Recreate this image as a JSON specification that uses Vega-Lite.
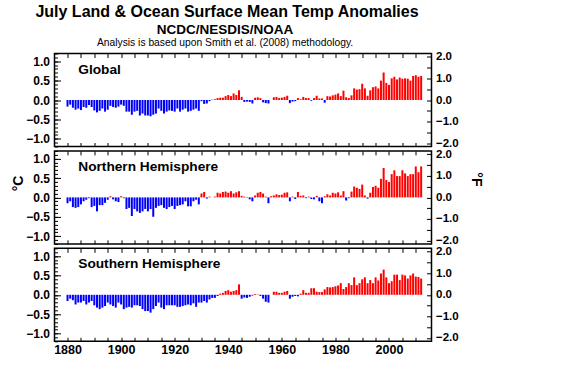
{
  "$schema": "https://vega.github.io/schema/vega-lite/v6.json",
  "background": "white",
  "padding": {"left": 10.5, "top": 3.5, "right": 0, "bottom": 0},
  "spacing": -2.6,
  "config": {
    "font": "Liberation Sans",
    "view": {"stroke": "black", "strokeWidth": 1.5},
    "axis": {
      "labelFont": "Liberation Sans",
      "labelFontSize": 12,
      "labelFontWeight": "bold",
      "labelColor": "black",
      "labelOverlap": false,
      "tickColor": "black",
      "tickWidth": 1,
      "domain": false,
      "grid": false,
      "titleFont": "Liberation Sans",
      "titleFontSize": 14,
      "titleFontWeight": "bold",
      "titleColor": "black"
    }
  },
  "title": {
    "text": "July Land & Ocean Surface Mean Temp Anomalies",
    "fontSize": 16,
    "font": "Liberation Sans",
    "fontWeight": "bold",
    "color": "black",
    "anchor": "middle",
    "dx": -20,
    "offset": 2
  },
  "datasets": {
    "global": [
      {"year":1880,"anom":-0.17},{"year":1881,"anom":-0.12},{"year":1882,"anom":-0.2},{"year":1883,"anom":-0.25},{"year":1884,"anom":-0.22},{"year":1885,"anom":-0.26},{"year":1886,"anom":-0.18},{"year":1887,"anom":-0.2},{"year":1888,"anom":-0.13},{"year":1889,"anom":-0.18},
      {"year":1890,"anom":-0.27},{"year":1891,"anom":-0.32},{"year":1892,"anom":-0.28},{"year":1893,"anom":-0.22},{"year":1894,"anom":-0.3},{"year":1895,"anom":-0.25},{"year":1896,"anom":-0.15},{"year":1897,"anom":-0.18},{"year":1898,"anom":-0.2},{"year":1899,"anom":-0.17},
      {"year":1900,"anom":-0.12},{"year":1901,"anom":-0.15},{"year":1902,"anom":-0.3},{"year":1903,"anom":-0.3},{"year":1904,"anom":-0.38},{"year":1905,"anom":-0.3},{"year":1906,"anom":-0.28},{"year":1907,"anom":-0.4},{"year":1908,"anom":-0.35},{"year":1909,"anom":-0.4},
      {"year":1910,"anom":-0.4},{"year":1911,"anom":-0.42},{"year":1912,"anom":-0.38},{"year":1913,"anom":-0.35},{"year":1914,"anom":-0.22},{"year":1915,"anom":-0.28},{"year":1916,"anom":-0.35},{"year":1917,"anom":-0.3},{"year":1918,"anom":-0.27},{"year":1919,"anom":-0.28},
      {"year":1920,"anom":-0.3},{"year":1921,"anom":-0.22},{"year":1922,"anom":-0.3},{"year":1923,"anom":-0.25},{"year":1924,"anom":-0.22},{"year":1925,"anom":-0.3},{"year":1926,"anom":-0.28},{"year":1927,"anom":-0.25},{"year":1928,"anom":-0.22},{"year":1929,"anom":-0.28},
      {"year":1930,"anom":-0.03},{"year":1931,"anom":-0.1},{"year":1932,"anom":-0.09},{"year":1933,"anom":-0.03},{"year":1934,"anom":0.01},{"year":1935,"anom":0.02},{"year":1936,"anom":0.05},{"year":1937,"anom":0.06},{"year":1938,"anom":0.06},{"year":1939,"anom":0.1},
      {"year":1940,"anom":0.13},{"year":1941,"anom":0.1},{"year":1942,"anom":0.17},{"year":1943,"anom":0.13},{"year":1944,"anom":0.25},{"year":1945,"anom":0.08},{"year":1946,"anom":-0.05},{"year":1947,"anom":-0.04},{"year":1948,"anom":-0.05},{"year":1949,"anom":-0.09},
      {"year":1950,"anom":0.06},{"year":1951,"anom":0.07},{"year":1952,"anom":0.05},{"year":1953,"anom":-0.06},{"year":1954,"anom":-0.08},{"year":1955,"anom":-0.09},{"year":1956,"anom":0.0},{"year":1957,"anom":0.07},{"year":1958,"anom":0.08},{"year":1959,"anom":0.05},
      {"year":1960,"anom":0.06},{"year":1961,"anom":0.08},{"year":1962,"anom":0.11},{"year":1963,"anom":-0.08},{"year":1964,"anom":-0.04},{"year":1965,"anom":-0.03},{"year":1966,"anom":0.05},{"year":1967,"anom":0.02},{"year":1968,"anom":0.08},{"year":1969,"anom":0.05},
      {"year":1970,"anom":0.05},{"year":1971,"anom":-0.02},{"year":1972,"anom":0.05},{"year":1973,"anom":0.11},{"year":1974,"anom":0.04},{"year":1975,"anom":0.04},{"year":1976,"anom":-0.07},{"year":1977,"anom":0.1},{"year":1978,"anom":0.09},{"year":1979,"anom":0.12},
      {"year":1980,"anom":0.14},{"year":1981,"anom":0.17},{"year":1982,"anom":0.1},{"year":1983,"anom":0.24},{"year":1984,"anom":0.07},{"year":1985,"anom":0.05},{"year":1986,"anom":0.12},{"year":1987,"anom":0.3},{"year":1988,"anom":0.27},{"year":1989,"anom":0.28},
      {"year":1990,"anom":0.42},{"year":1991,"anom":0.3},{"year":1992,"anom":0.11},{"year":1993,"anom":0.25},{"year":1994,"anom":0.33},{"year":1995,"anom":0.35},{"year":1996,"anom":0.3},{"year":1997,"anom":0.5},{"year":1998,"anom":0.71},{"year":1999,"anom":0.44},
      {"year":2000,"anom":0.39},{"year":2001,"anom":0.56},{"year":2002,"anom":0.6},{"year":2003,"anom":0.53},{"year":2004,"anom":0.58},{"year":2005,"anom":0.55},{"year":2006,"anom":0.56},{"year":2007,"anom":0.55},{"year":2008,"anom":0.5},{"year":2009,"anom":0.62},
      {"year":2010,"anom":0.64},{"year":2011,"anom":0.6},{"year":2012,"anom":0.62}
    ],
    "nh": [
      {"year":1880,"anom":-0.15},{"year":1881,"anom":-0.1},{"year":1882,"anom":-0.25},{"year":1883,"anom":-0.27},{"year":1884,"anom":-0.25},{"year":1885,"anom":-0.18},{"year":1886,"anom":-0.1},{"year":1887,"anom":-0.06},{"year":1888,"anom":-0.02},{"year":1889,"anom":-0.25},
      {"year":1890,"anom":-0.22},{"year":1891,"anom":-0.36},{"year":1892,"anom":-0.2},{"year":1893,"anom":-0.2},{"year":1894,"anom":-0.14},{"year":1895,"anom":-0.06},{"year":1896,"anom":0.03},{"year":1897,"anom":-0.05},{"year":1898,"anom":-0.1},{"year":1899,"anom":-0.12},
      {"year":1900,"anom":0.03},{"year":1901,"anom":-0.02},{"year":1902,"anom":-0.3},{"year":1903,"anom":-0.27},{"year":1904,"anom":-0.48},{"year":1905,"anom":-0.3},{"year":1906,"anom":-0.36},{"year":1907,"anom":-0.4},{"year":1908,"anom":-0.36},{"year":1909,"anom":-0.3},
      {"year":1910,"anom":-0.36},{"year":1911,"anom":-0.3},{"year":1912,"anom":-0.5},{"year":1913,"anom":-0.27},{"year":1914,"anom":-0.22},{"year":1915,"anom":-0.2},{"year":1916,"anom":-0.27},{"year":1917,"anom":-0.3},{"year":1918,"anom":-0.25},{"year":1919,"anom":-0.22},
      {"year":1920,"anom":-0.3},{"year":1921,"anom":-0.22},{"year":1922,"anom":-0.2},{"year":1923,"anom":-0.18},{"year":1924,"anom":-0.1},{"year":1925,"anom":-0.23},{"year":1926,"anom":-0.23},{"year":1927,"anom":-0.1},{"year":1928,"anom":-0.06},{"year":1929,"anom":-0.18},
      {"year":1930,"anom":0.1},{"year":1931,"anom":0.14},{"year":1932,"anom":-0.03},{"year":1933,"anom":0.02},{"year":1934,"anom":0.0},{"year":1935,"anom":0.02},{"year":1936,"anom":0.12},{"year":1937,"anom":0.1},{"year":1938,"anom":0.14},{"year":1939,"anom":0.15},
      {"year":1940,"anom":0.12},{"year":1941,"anom":0.16},{"year":1942,"anom":0.1},{"year":1943,"anom":0.13},{"year":1944,"anom":0.16},{"year":1945,"anom":0.04},{"year":1946,"anom":0.02},{"year":1947,"anom":-0.01},{"year":1948,"anom":-0.05},{"year":1949,"anom":-0.1},
      {"year":1950,"anom":0.05},{"year":1951,"anom":0.12},{"year":1952,"anom":0.14},{"year":1953,"anom":0.1},{"year":1954,"anom":0.02},{"year":1955,"anom":-0.15},{"year":1956,"anom":0.03},{"year":1957,"anom":0.05},{"year":1958,"anom":0.08},{"year":1959,"anom":0.06},
      {"year":1960,"anom":0.07},{"year":1961,"anom":0.12},{"year":1962,"anom":0.13},{"year":1963,"anom":-0.1},{"year":1964,"anom":0.02},{"year":1965,"anom":-0.04},{"year":1966,"anom":0.14},{"year":1967,"anom":0.04},{"year":1968,"anom":0.05},{"year":1969,"anom":-0.02},
      {"year":1970,"anom":0.02},{"year":1971,"anom":-0.04},{"year":1972,"anom":-0.05},{"year":1973,"anom":0.04},{"year":1974,"anom":-0.1},{"year":1975,"anom":-0.15},{"year":1976,"anom":0.03},{"year":1977,"anom":0.08},{"year":1978,"anom":0.05},{"year":1979,"anom":0.12},
      {"year":1980,"anom":0.1},{"year":1981,"anom":0.13},{"year":1982,"anom":0.05},{"year":1983,"anom":0.16},{"year":1984,"anom":-0.08},{"year":1985,"anom":-0.02},{"year":1986,"anom":0.15},{"year":1987,"anom":0.28},{"year":1988,"anom":0.25},{"year":1989,"anom":0.22},
      {"year":1990,"anom":0.33},{"year":1991,"anom":0.05},{"year":1992,"anom":-0.03},{"year":1993,"anom":0.12},{"year":1994,"anom":0.27},{"year":1995,"anom":0.3},{"year":1996,"anom":0.25},{"year":1997,"anom":0.48},{"year":1998,"anom":0.76},{"year":1999,"anom":0.45},
      {"year":2000,"anom":0.4},{"year":2001,"anom":0.6},{"year":2002,"anom":0.7},{"year":2003,"anom":0.55},{"year":2004,"anom":0.55},{"year":2005,"anom":0.7},{"year":2006,"anom":0.62},{"year":2007,"anom":0.55},{"year":2008,"anom":0.6},{"year":2009,"anom":0.6},
      {"year":2010,"anom":0.8},{"year":2011,"anom":0.65},{"year":2012,"anom":0.8}
    ],
    "sh": [
      {"year":1880,"anom":-0.16},{"year":1881,"anom":-0.1},{"year":1882,"anom":-0.14},{"year":1883,"anom":-0.25},{"year":1884,"anom":-0.2},{"year":1885,"anom":-0.2},{"year":1886,"anom":-0.16},{"year":1887,"anom":-0.25},{"year":1888,"anom":-0.2},{"year":1889,"anom":-0.16},
      {"year":1890,"anom":-0.27},{"year":1891,"anom":-0.33},{"year":1892,"anom":-0.37},{"year":1893,"anom":-0.33},{"year":1894,"anom":-0.29},{"year":1895,"anom":-0.2},{"year":1896,"anom":-0.25},{"year":1897,"anom":-0.29},{"year":1898,"anom":-0.33},{"year":1899,"anom":-0.2},
      {"year":1900,"anom":-0.25},{"year":1901,"anom":-0.37},{"year":1902,"anom":-0.33},{"year":1903,"anom":-0.31},{"year":1904,"anom":-0.33},{"year":1905,"anom":-0.27},{"year":1906,"anom":-0.27},{"year":1907,"anom":-0.29},{"year":1908,"anom":-0.37},{"year":1909,"anom":-0.42},
      {"year":1910,"anom":-0.42},{"year":1911,"anom":-0.46},{"year":1912,"anom":-0.37},{"year":1913,"anom":-0.29},{"year":1914,"anom":-0.2},{"year":1915,"anom":-0.33},{"year":1916,"anom":-0.37},{"year":1917,"anom":-0.27},{"year":1918,"anom":-0.27},{"year":1919,"anom":-0.27},
      {"year":1920,"anom":-0.27},{"year":1921,"anom":-0.31},{"year":1922,"anom":-0.31},{"year":1923,"anom":-0.29},{"year":1924,"anom":-0.27},{"year":1925,"anom":-0.25},{"year":1926,"anom":-0.27},{"year":1927,"anom":-0.22},{"year":1928,"anom":-0.31},{"year":1929,"anom":-0.2},
      {"year":1930,"anom":-0.2},{"year":1931,"anom":-0.16},{"year":1932,"anom":-0.2},{"year":1933,"anom":-0.12},{"year":1934,"anom":-0.08},{"year":1935,"anom":-0.08},{"year":1936,"anom":-0.03},{"year":1937,"anom":0.03},{"year":1938,"anom":0.05},{"year":1939,"anom":0.1},
      {"year":1940,"anom":0.12},{"year":1941,"anom":0.08},{"year":1942,"anom":0.1},{"year":1943,"anom":0.12},{"year":1944,"anom":0.27},{"year":1945,"anom":-0.1},{"year":1946,"anom":-0.07},{"year":1947,"anom":-0.08},{"year":1948,"anom":-0.05},{"year":1949,"anom":-0.02},
      {"year":1950,"anom":0.02},{"year":1951,"anom":0.01},{"year":1952,"anom":-0.03},{"year":1953,"anom":-0.1},{"year":1954,"anom":-0.18},{"year":1955,"anom":-0.2},{"year":1956,"anom":0.0},{"year":1957,"anom":0.08},{"year":1958,"anom":0.08},{"year":1959,"anom":0.05},
      {"year":1960,"anom":0.05},{"year":1961,"anom":0.08},{"year":1962,"anom":0.1},{"year":1963,"anom":-0.1},{"year":1964,"anom":-0.05},{"year":1965,"anom":-0.03},{"year":1966,"anom":-0.04},{"year":1967,"anom":0.03},{"year":1968,"anom":0.12},{"year":1969,"anom":0.05},
      {"year":1970,"anom":0.05},{"year":1971,"anom":0.17},{"year":1972,"anom":0.17},{"year":1973,"anom":0.08},{"year":1974,"anom":0.07},{"year":1975,"anom":0.07},{"year":1976,"anom":0.14},{"year":1977,"anom":0.2},{"year":1978,"anom":0.19},{"year":1979,"anom":0.2},
      {"year":1980,"anom":0.22},{"year":1981,"anom":0.24},{"year":1982,"anom":0.3},{"year":1983,"anom":0.15},{"year":1984,"anom":0.2},{"year":1985,"anom":0.3},{"year":1986,"anom":0.25},{"year":1987,"anom":0.45},{"year":1988,"anom":0.25},{"year":1989,"anom":0.3},
      {"year":1990,"anom":0.4},{"year":1991,"anom":0.45},{"year":1992,"anom":0.3},{"year":1993,"anom":0.38},{"year":1994,"anom":0.3},{"year":1995,"anom":0.45},{"year":1996,"anom":0.37},{"year":1997,"anom":0.55},{"year":1998,"anom":0.65},{"year":1999,"anom":0.45},
      {"year":2000,"anom":0.3},{"year":2001,"anom":0.35},{"year":2002,"anom":0.52},{"year":2003,"anom":0.52},{"year":2004,"anom":0.38},{"year":2005,"anom":0.52},{"year":2006,"anom":0.5},{"year":2007,"anom":0.42},{"year":2008,"anom":0.5},{"year":2009,"anom":0.55},
      {"year":2010,"anom":0.47},{"year":2011,"anom":0.46},{"year":2012,"anom":0.42}
    ]
  },
  "vconcat": [
    {
      "width": 377,
      "height": 93,
      "title": {
        "text": "NCDC/NESDIS/NOAA",
        "subtitle": "Analysis is based upon Smith et al. (2008) methodology.",
        "font": "Liberation Sans",
        "fontSize": 13.5,
        "fontWeight": "bold",
        "color": "black",
        "subtitleFont": "Liberation Sans",
        "subtitleFontSize": 10.3,
        "subtitleColor": "black",
        "subtitlePadding": 2,
        "anchor": "middle",
        "dx": -18,
        "offset": 2.5
      },
      "layer": [
        {
          "data": {"name": "global"},
          "mark": {"type": "bar", "size": 2},
          "encoding": {
            "x": {"field": "year", "type": "quantitative", "scale": {"domain": [1877, 2014], "nice": false, "zero": false},
              "axis": {"orient": "bottom", "values": [1880,1885,1890,1895,1900,1905,1910,1915,1920,1925,1930,1935,1940,1945,1950,1955,1960,1965,1970,1975,1980,1985,1990,1995,2000,2005,2010], "labels": false, "tickSize": -4, "title": null}},
            "y": {"field": "anom", "type": "quantitative", "scale": {"domain": [-1.2, 1.2], "nice": false},
              "axis": {"values": [-1, -0.5, 0, 0.5, 1], "format": ".1f", "tickSize": -6, "labelPadding": 11, "title": null}},
            "color": {"condition": {"test": "datum.anom >= 0", "value": "#ff0000"}, "value": "#0000ff"}
          }
        },
        {
          "data": {"values": [{"label": "Global"}]},
          "mark": {"type": "text", "align": "left", "baseline": "alphabetic", "fontSize": 13.7, "fontWeight": "bold", "font": "Liberation Sans", "color": "black"},
          "encoding": {
            "x": {"datum": 1884, "type": "quantitative", "axis": null},
            "y": {"datum": 0.68, "type": "quantitative", "scale": {"domain": [-1.2, 1.2], "nice": false}, "axis": null},
            "text": {"field": "label"}
          }
        },
        {
          "data": {"values": [{"k": 0}]},
          "mark": {"type": "point", "opacity": 0},
          "encoding": {
            "x": {"datum": 1950, "type": "quantitative",
              "axis": {"orient": "top", "values": [1880,1885,1890,1895,1900,1905,1910,1915,1920,1925,1930,1935,1940,1945,1950,1955,1960,1965,1970,1975,1980,1985,1990,1995,2000,2005,2010], "labels": false, "tickSize": -4, "title": null}},
            "y": {"datum": 0, "type": "quantitative", "scale": {"domain": [-1.2, 1.2], "nice": false},
              "axis": {"orient": "left", "values": [-1.2,-1.1,-1,-0.9,-0.8,-0.7,-0.6,-0.5,-0.4,-0.3,-0.2,-0.1,0,0.1,0.2,0.3,0.4,0.5,0.6,0.7,0.8,0.9,1,1.1,1.2], "labels": false, "tickSize": -3, "title": null}}
          }
        },
        {
          "data": {"values": [{"k": 0}]},
          "mark": {"type": "point", "opacity": 0},
          "encoding": {
            "y": {"datum": 0, "type": "quantitative", "scale": {"domain": [-2.16, 2.16], "nice": false},
              "axis": {"orient": "right", "values": [-2,-1.5,-1,-0.5,0,0.5,1,1.5,2], "labelExpr": "datum.value % 1 === 0 ? format(datum.value, '.1f') : ''", "labelFontSize": 11.5, "tickSize": -5, "labelPadding": 9, "title": null}}
          }
        }
      ],
      "resolve": {"scale": {"y": "independent"}, "axis": {"x": "independent"}}
    },
    {
      "width": 377,
      "height": 93,
      "layer": [
        {
          "data": {"name": "nh"},
          "mark": {"type": "bar", "size": 2},
          "encoding": {
            "x": {"field": "year", "type": "quantitative", "scale": {"domain": [1877, 2014], "nice": false, "zero": false},
              "axis": {"orient": "bottom", "values": [1880,1885,1890,1895,1900,1905,1910,1915,1920,1925,1930,1935,1940,1945,1950,1955,1960,1965,1970,1975,1980,1985,1990,1995,2000,2005,2010], "labels": false, "tickSize": -4, "title": null}},
            "y": {"field": "anom", "type": "quantitative", "scale": {"domain": [-1.2, 1.2], "nice": false},
              "axis": {"values": [-1, -0.5, 0, 0.5, 1], "format": ".1f", "tickSize": -6, "labelPadding": 11, "title": "°C", "titlePadding": 0, "titleY": 32}},
            "color": {"condition": {"test": "datum.anom >= 0", "value": "#ff0000"}, "value": "#0000ff"}
          }
        },
        {
          "data": {"values": [{"label": "Northern Hemisphere"}]},
          "mark": {"type": "text", "align": "left", "baseline": "alphabetic", "fontSize": 13.7, "fontWeight": "bold", "font": "Liberation Sans", "color": "black"},
          "encoding": {
            "x": {"datum": 1884, "type": "quantitative", "axis": null},
            "y": {"datum": 0.68, "type": "quantitative", "scale": {"domain": [-1.2, 1.2], "nice": false}, "axis": null},
            "text": {"field": "label"}
          }
        },
        {
          "data": {"values": [{"k": 0}]},
          "mark": {"type": "point", "opacity": 0},
          "encoding": {
            "x": {"datum": 1950, "type": "quantitative",
              "axis": {"orient": "top", "values": [1880,1885,1890,1895,1900,1905,1910,1915,1920,1925,1930,1935,1940,1945,1950,1955,1960,1965,1970,1975,1980,1985,1990,1995,2000,2005,2010], "labels": false, "tickSize": -4, "title": null}},
            "y": {"datum": 0, "type": "quantitative", "scale": {"domain": [-1.2, 1.2], "nice": false},
              "axis": {"orient": "left", "values": [-1.2,-1.1,-1,-0.9,-0.8,-0.7,-0.6,-0.5,-0.4,-0.3,-0.2,-0.1,0,0.1,0.2,0.3,0.4,0.5,0.6,0.7,0.8,0.9,1,1.1,1.2], "labels": false, "tickSize": -3, "title": null}}
          }
        },
        {
          "data": {"values": [{"k": 0}]},
          "mark": {"type": "point", "opacity": 0},
          "encoding": {
            "y": {"datum": 0, "type": "quantitative", "scale": {"domain": [-2.16, 2.16], "nice": false},
              "axis": {"orient": "right", "values": [-2,-1.5,-1,-0.5,0,0.5,1,1.5,2], "labelExpr": "datum.value % 1 === 0 ? format(datum.value, '.1f') : ''", "labelFontSize": 11.5, "tickSize": -5, "labelPadding": 9, "title": "°F", "titleAngle": 90, "titlePadding": 10, "titleY": 28}}
          }
        }
      ],
      "resolve": {"scale": {"y": "independent"}, "axis": {"x": "independent"}}
    },
    {
      "width": 377,
      "height": 93,
      "layer": [
        {
          "data": {"name": "sh"},
          "mark": {"type": "bar", "size": 2},
          "encoding": {
            "x": {"field": "year", "type": "quantitative", "scale": {"domain": [1877, 2014], "nice": false, "zero": false},
              "axis": {"orient": "bottom", "values": [1880,1885,1890,1895,1900,1905,1910,1915,1920,1925,1930,1935,1940,1945,1950,1955,1960,1965,1970,1975,1980,1985,1990,1995,2000,2005,2010], "format": "d", "labelExpr": "datum.value % 20 === 0 ? datum.label : ''", "labelFontSize": 12.5, "labelPadding": 6, "tickSize": -4, "title": null}},
            "y": {"field": "anom", "type": "quantitative", "scale": {"domain": [-1.2, 1.2], "nice": false},
              "axis": {"values": [-1, -0.5, 0, 0.5, 1], "format": ".1f", "tickSize": -6, "labelPadding": 11, "title": null}},
            "color": {"condition": {"test": "datum.anom >= 0", "value": "#ff0000"}, "value": "#0000ff"}
          }
        },
        {
          "data": {"values": [{"label": "Southern Hemisphere"}]},
          "mark": {"type": "text", "align": "left", "baseline": "alphabetic", "fontSize": 13.7, "fontWeight": "bold", "font": "Liberation Sans", "color": "black"},
          "encoding": {
            "x": {"datum": 1884, "type": "quantitative", "axis": null},
            "y": {"datum": 0.68, "type": "quantitative", "scale": {"domain": [-1.2, 1.2], "nice": false}, "axis": null},
            "text": {"field": "label"}
          }
        },
        {
          "data": {"values": [{"k": 0}]},
          "mark": {"type": "point", "opacity": 0},
          "encoding": {
            "x": {"datum": 1950, "type": "quantitative",
              "axis": {"orient": "top", "values": [1880,1885,1890,1895,1900,1905,1910,1915,1920,1925,1930,1935,1940,1945,1950,1955,1960,1965,1970,1975,1980,1985,1990,1995,2000,2005,2010], "labels": false, "tickSize": -4, "title": null}},
            "y": {"datum": 0, "type": "quantitative", "scale": {"domain": [-1.2, 1.2], "nice": false},
              "axis": {"orient": "left", "values": [-1.2,-1.1,-1,-0.9,-0.8,-0.7,-0.6,-0.5,-0.4,-0.3,-0.2,-0.1,0,0.1,0.2,0.3,0.4,0.5,0.6,0.7,0.8,0.9,1,1.1,1.2], "labels": false, "tickSize": -3, "title": null}}
          }
        },
        {
          "data": {"values": [{"k": 0}]},
          "mark": {"type": "point", "opacity": 0},
          "encoding": {
            "y": {"datum": 0, "type": "quantitative", "scale": {"domain": [-2.16, 2.16], "nice": false},
              "axis": {"orient": "right", "values": [-2,-1.5,-1,-0.5,0,0.5,1,1.5,2], "labelExpr": "datum.value % 1 === 0 ? format(datum.value, '.1f') : ''", "labelFontSize": 11.5, "tickSize": -5, "labelPadding": 9, "title": null}}
          }
        }
      ],
      "resolve": {"scale": {"y": "independent"}, "axis": {"x": "independent"}}
    }
  ]
}
